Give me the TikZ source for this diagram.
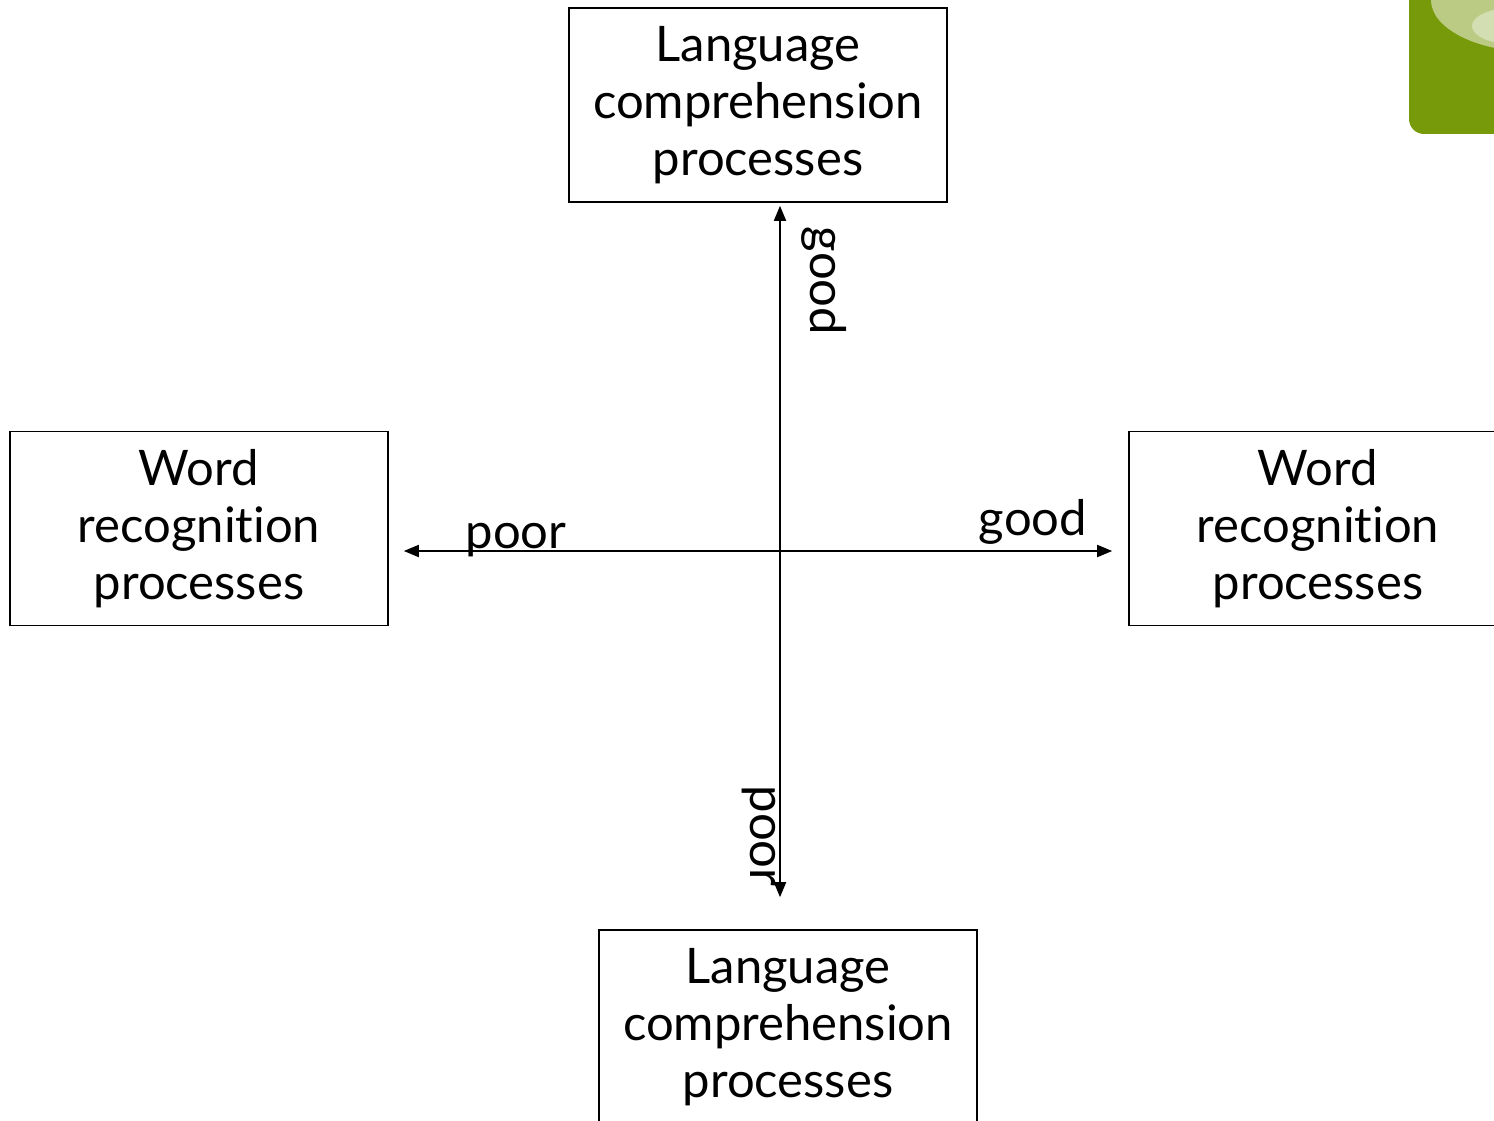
\documentclass[tikz,border=0pt]{standalone}
\usepackage{fontspec}
\setmainfont{Lato}[Ligatures=NoCommon]
\usetikzlibrary{arrows.meta}
\definecolor{cornergreen}{HTML}{779A0A}
\definecolor{lightgreen}{HTML}{BCCB84}
\definecolor{palegreen}{HTML}{D4DEB3}
\newcommand{\recog}{recognit\kern0pt ion}
\tikzset{
  box/.style={draw, line width=1.6pt, minimum width=378pt, minimum height=194pt,
    align=center, inner sep=0pt, font=\fontsize{49}{57}\selectfont},
  lbl/.style={inner sep=0pt, font=\fontsize{49}{57}\selectfont},
  arr/.style={line width=1.8pt, -{Triangle[length=15pt,width=12pt]}}
}
\begin{document}
\begin{tikzpicture}[x=1pt,y=1pt]
\useasboundingbox (0,0) rectangle (1494,-1121);
\clip (0,0) rectangle (1494,-1121);
% decorative corner
\fill[cornergreen, rounded corners=15pt] (1409,20) rectangle (1530,-134);
\fill[lightgreen] (1535,0) ellipse [x radius=104, y radius=52];
\fill[palegreen] (1512,-26) ellipse [x radius=40, y radius=18];
% boxes
\node[box] (lc1) at (758,-105) {Language\\comprehension\\processes};
\node[box] (wr1) at (199,-528.5) {Word\\\recog\\processes};
\node[box] (wr2) at (1318,-528.5) {Word\\\recog\\processes};
\node[box] (lc2) at (788,-1027) {Language\\comprehension\\processes};
% axes
\coordinate (o) at (780,-551);
\draw[arr] (o) -- ([yshift=-3pt]o |- lc1.south);
\draw[arr] (o) -- ([yshift=32pt]o |- lc2.north);
\draw[arr] (o) -- ([xshift=15pt]wr1.east |- o);
\draw[arr] (o) -- ([xshift=-16pt]wr2.west |- o);
% labels
\node[lbl, rotate=-90] (g1) at (824,-281) {good};
\node[lbl, rotate=-90] (p1) at (759,-836) {poor};
\node[lbl, anchor=base] (p2) at (516,-548) {poor};
\node[lbl, anchor=base] (g2) at (1033,-535) {good};
\end{tikzpicture}
\end{document}
